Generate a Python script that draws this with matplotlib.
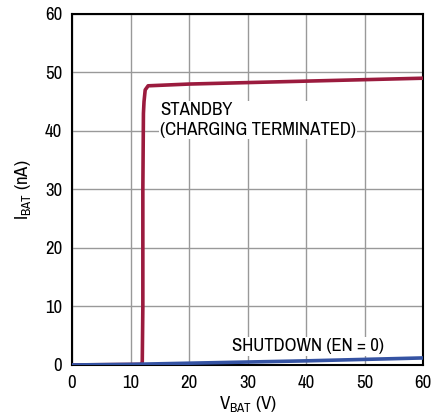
import matplotlib.pyplot as plt

# narrow sans, falls back if missing
plt.rcParams['font.family'] = ['Archivo Narrow', 'Liberation Sans', 'DejaVu Sans']
plt.rcParams['mathtext.fontset'] = 'custom'
plt.rcParams['mathtext.rm'] = 'Archivo Narrow'

# data
standby_v = [0, 11.8, 12.0, 12.1, 12.1, 12.2, 12.3, 12.5, 13.0, 20, 40, 60]
standby_i = [0, 0.1, 0.5, 10, 30, 43, 45, 47, 47.7, 48.0, 48.5, 49.0]
shutdown_v = [0, 10, 20, 30, 40, 50, 60]
shutdown_i = [0, 0.1, 0.3, 0.5, 0.7, 0.95, 1.2]
x_ticks = [0, 10, 20, 30, 40, 50, 60]
y_ticks = [0, 10, 20, 30, 40, 50, 60]

fig = plt.figure(figsize=(4.34, 4.19), dpi=100)
ax = fig.add_axes([0.166, 0.129, 0.809, 0.838])

ax.plot(standby_v, standby_i, color='#9b1b3e', lw=2.6, solid_joinstyle='round', zorder=3)
ax.plot(shutdown_v, shutdown_i, color='#3553a3', lw=2.6, zorder=4)

ax.set_xlim(0, 60)
ax.set_ylim(0, 60)
ax.set_xticks(x_ticks)
ax.set_yticks(y_ticks)
ax.grid(True, color='#999999', lw=1)
ax.tick_params(length=0, labelsize=13.5, pad=7)
for s in ax.spines.values():
    s.set_linewidth(1.5)

ax.set_xlabel('V$_{\\mathregular{BAT}}$ (V)', fontsize=13.5, labelpad=3)
ax.set_ylabel('I$_{\\mathregular{BAT}}$ (nA)', fontsize=13.5, labelpad=8)

bbox = dict(facecolor='white', edgecolor='none', pad=1)
ax.text(15.0, 44.9, 'STANDBY\n(CHARGING TERMINATED)', fontsize=13.5,
        va='top', ha='left', linespacing=1.3, bbox=bbox, zorder=5)
ax.text(27.3, 3.2, 'SHUTDOWN (EN = 0)', fontsize=13.5, va='center', ha='left',
        bbox=bbox, zorder=5)

fig.savefig('out.png', dpi=100)
